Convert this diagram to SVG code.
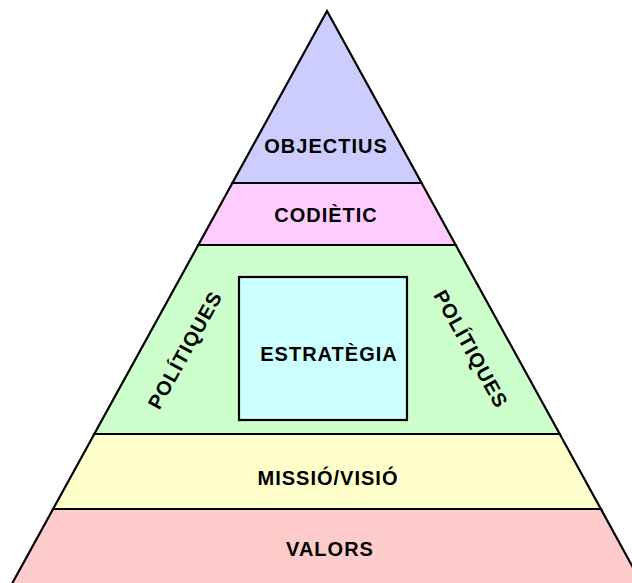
<svg xmlns="http://www.w3.org/2000/svg" width="632" height="583" viewBox="0 0 632 583">
<style>
.band{stroke:#000;stroke-width:2.2;stroke-linejoin:miter}
.lbl{font-family:"Liberation Sans",Arial,sans-serif;font-weight:bold;font-size:20px;letter-spacing:1px;fill:#000;text-anchor:middle}
</style>
<rect width="632" height="583" fill="#fff"/>
<g id="valors">
<polygon class="band" fill="#FFCCCC" points="53.1,509 600.9,509 642.5,585 11.3,585"/>
<text class="lbl" x="330" y="556">VALORS</text>
</g>
<g id="missio">
<polygon class="band" fill="#FFFFCC" points="94.3,434 559.7,434 600.9,509 53.1,509"/>
<text class="lbl" x="328" y="485">MISSIÓ/VISIÓ</text>
</g>
<g id="politiques-band">
<polygon class="band" fill="#CCFFCC" points="198.3,245 455.7,245 559.7,434 94.3,434"/>
<text class="lbl" transform="translate(185,350) rotate(-61)" x="0" y="7">POLÍTIQUES</text>
<text class="lbl" transform="translate(471,349) rotate(61)" x="0" y="7">POLÍTIQUES</text>
</g>
<g id="estrategia">
<rect x="239" y="277" width="168" height="143" fill="#CCFFFF" stroke="#000" stroke-width="2.2"/>
<text class="lbl" x="329" y="361">ESTRATÈGIA</text>
</g>
<g id="codietic">
<polygon class="band" fill="#FFCCFF" points="232.4,183 421.6,183 455.7,245 198.3,245"/>
<text class="lbl" x="326" y="222">CODIÈTIC</text>
</g>
<g id="objectius">
<polygon class="band" fill="#CCCCFF" points="327,11 421.6,183 232.4,183"/>
<text class="lbl" x="326" y="153">OBJECTIUS</text>
</g>
<g id="connectors"></g>
</svg>
